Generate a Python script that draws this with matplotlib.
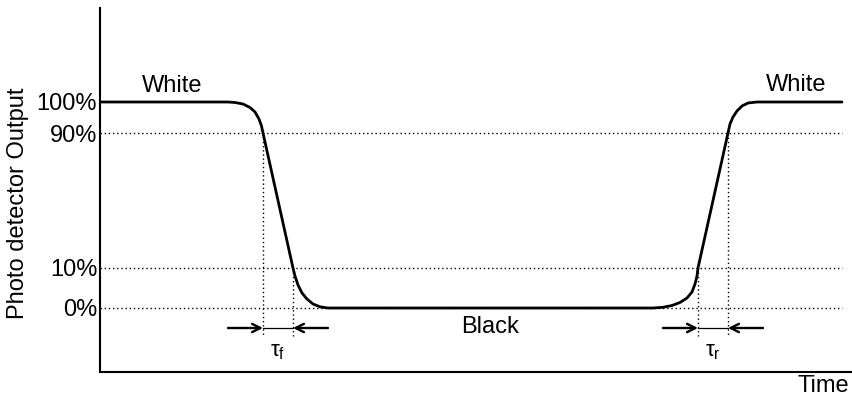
import matplotlib
matplotlib.use("Agg")
import matplotlib.pyplot as plt

plt.rcParams['font.family'] = ['Liberation Sans', 'DejaVu Sans']
plt.rcParams['mathtext.fontset'] = 'custom'
plt.rcParams['mathtext.rm'] = 'Liberation Sans'

# Waveform (time in arbitrary units, output in arbitrary vertical units)
time = [100, 228, 235, 243, 250, 255, 259, 261.5, 263,
        293, 295, 298, 302, 307, 313, 320, 328,
        653, 663, 672, 680, 687, 692, 695, 697, 698,
        728, 730, 733, 737, 742, 748, 757, 842]
output = [206, 206, 205.5, 204, 200.5, 196, 189, 182, 175,
          40, 32, 23, 15, 9, 4, 1.2, 0,
          0, 0.7, 2.5, 5.5, 10, 16, 24, 32, 40,
          175, 184, 191, 197, 202, 205, 206, 206]

# Threshold levels
level_pos = [206, 175, 40, 0]
level_labels = ["100%", "90%", "10%", "0%"]
dotted_levels = [175, 40, 0]

# Crossing times
fall_t90, fall_t10 = 263, 293
rise_t10, rise_t90 = 698, 728

FS = 17

fig = plt.figure(figsize=(8.52, 3.98), dpi=100)
ax = fig.add_axes([100/852, 26/398, 752/852, 364/398])
ax.set_xlim(100, 852)
ax.set_ylim(-64, 300)

for s in ['top', 'right']:
    ax.spines[s].set_visible(False)
for s in ['left', 'bottom']:
    ax.spines[s].set_linewidth(1.5)

ax.set_xticks([])
ax.set_yticks(level_pos)
ax.set_yticklabels(level_labels, fontsize=FS)
ax.tick_params(axis='y', length=0, pad=2)

dot = dict(color='black', lw=1.0, linestyle=(0, (1, 2)))
for lv in dotted_levels:
    ax.plot([100, 842], [lv, lv], **dot)

arrow_y = -20
for t, lv in [(fall_t90, 175), (fall_t10, 40), (rise_t10, 40), (rise_t90, 175)]:
    ax.plot([t, t], [lv, -29], **dot)

ax.plot(time, output, color='black', lw=2.0, solid_joinstyle='round',
        solid_capstyle='round')

for a, b in [(fall_t90, fall_t10), (rise_t10, rise_t90)]:
    ax.annotate('', xy=(a, arrow_y), xytext=(a - 35, arrow_y),
                arrowprops=dict(arrowstyle='->', lw=1.7, color='black',
                                shrinkA=0, shrinkB=0, mutation_scale=15))
    ax.annotate('', xy=(b, arrow_y), xytext=(b + 35, arrow_y),
                arrowprops=dict(arrowstyle='->', lw=1.7, color='black',
                                shrinkA=0, shrinkB=0, mutation_scale=15))
    ax.plot([a, b], [arrow_y, arrow_y], color='black', lw=0.9)

ax.text((fall_t90 + fall_t10) / 2, -44, r'$\mathregular{τ_f}$', ha='center',
        va='center', fontsize=FS - 1)
ax.text((rise_t10 + rise_t90) / 2, -44, r'$\mathregular{τ_r}$', ha='center',
        va='center', fontsize=FS - 1)

ax.text(172, 222, 'White', ha='center', va='center', fontsize=FS)
ax.text(796, 223, 'White', ha='center', va='center', fontsize=FS)
ax.text(490, -19, 'Black', ha='center', va='center', fontsize=FS)
fig.text(823/852, 1 - 386/398, 'Time', ha='center', va='center', fontsize=FS)
fig.text(18/852, 1 - 203/398, 'Photo detector Output', ha='center',
         va='center', rotation=90, fontsize=FS)

fig.savefig('out.png', dpi=100)
